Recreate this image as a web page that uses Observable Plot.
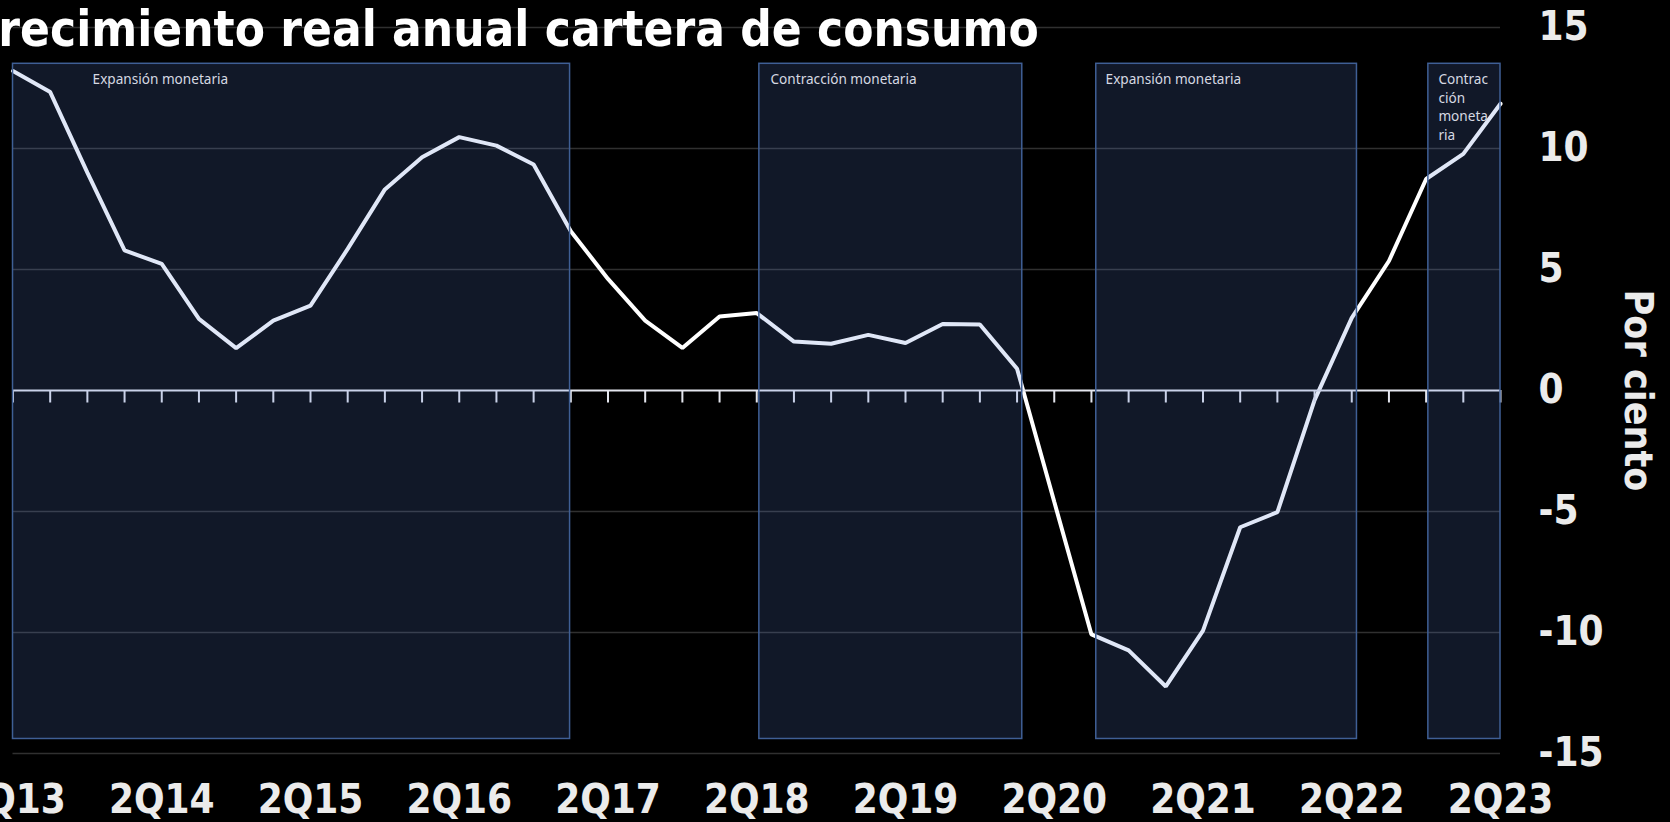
<!DOCTYPE html>
<html>
<head>
<meta charset="utf-8">
<script src="https://cdn.jsdelivr.net/npm/d3@7"></script>
<script src="https://cdn.jsdelivr.net/npm/@observablehq/plot@0.6"></script>
<style>
  html, body { margin: 0; padding: 0; background: #000; overflow: hidden; }
  #wrap { position: relative; width: 1670px; height: 822px; background: #000; }
  #title {
    position: absolute; left: -34px; top: 5px; margin: 0;
    font-family: "DejaVu Sans Condensed", "DejaVu Sans", sans-serif;
    font-stretch: condensed;
    font-weight: bold; font-size: 49px; line-height: 49px;
    color: #ffffff; white-space: nowrap; z-index: 2;
  }
  svg { display: block; }
</style>
</head>
<body>
<div id="wrap">
  <div id="title">Crecimiento real anual cartera de consumo</div>
  <div id="chart"></div>
</div>
<script>
// Quarterly values, 2Q13 .. 2Q23 (per cent, real annual growth)
const growth = [
  13.2, 12.33, 9.0, 5.79, 5.23, 2.96, 1.75, 2.89, 3.51, 5.85,
  8.31, 9.64, 10.47, 10.12, 9.34, 6.58, 4.61, 2.89, 1.76, 3.06,
  3.20, 2.02, 1.93, 2.30, 1.96, 2.75, 2.73, 0.90, -4.6, -10.08,
  -10.74, -12.23, -9.92, -5.65, -5.03, -0.4, 3.0, 5.35, 8.74, 9.78,
  11.85
];
const tickLabels = ["2Q13","2Q14","2Q15","2Q16","2Q17","2Q18","2Q19","2Q20","2Q21","2Q22","2Q23"];
const yTicks = [-15, -10, -5, 0, 5, 10, 15];
const gridValues = [-15, -10, -5, 5, 10, 15];

// Monetary policy periods (quarter index from 2Q13)
const periodStart = [0, 20.07, 29.13, 38.06];
const periodEnd   = [14.98, 27.14, 36.14, 40];
const periodTop = 13.5;
const periodBottom = -14.4;
const periodLabels = ["Expansión monetaria", "Contracción monetaria", "Expansión monetaria", "Contrac\nción\nmoneta\nria"];
const periodLabelX = [2.14, 20.37, 29.38, 38.33];
const periodLabelY = 13.22;

const series = growth.map((v, i) => ({i, v}));
const quarterIdx = growth.map((_, i) => i);
const periods = periodStart.map((s, k) => ({x1: s, x2: periodEnd[k], y1: periodBottom, y2: periodTop, label: periodLabels[k], lx: periodLabelX[k]}));
const tickIdx = tickLabels.map((_, k) => k * 4);

const bold = "'DejaVu Sans Condensed', 'DejaVu Sans', sans-serif";
const plot = Plot.plot({
  width: 1670,
  height: 822,
  marginLeft: 12.5,
  marginRight: 170,
  marginTop: 27,
  marginBottom: 69,
  style: {background: "#000", color: "#ebebeb", fontFamily: bold, overflow: "hidden"},
  x: {type: "linear", domain: [0, 40]},
  y: {domain: [-15, 15]},
  marks: [
    Plot.ruleY(gridValues, {stroke: "#303030", strokeWidth: 1.4}),
    Plot.line(series, {x: "i", y: "v", stroke: "#ffffff", strokeWidth: 4, strokeLinejoin: "miter"}),
    Plot.ruleY([0], {stroke: "#e4e6ee", strokeWidth: 2}),
    Plot.ruleX(quarterIdx, {x: d => d, y1: 0, y2: -12.5 / 24.2, stroke: "#e4e6ee", strokeWidth: 2}),
    Plot.rect(periods, {x1: "x1", x2: "x2", y1: "y1", y2: "y2", fill: "#5b7fd6", fillOpacity: 0.19, stroke: "#3f5f95", strokeWidth: 1.5}),
    Plot.text(periods, {x: "lx", y: periodLabelY, text: "label", textAnchor: "start", lineAnchor: "top", lineHeight: 1.38,
      fontSize: 13.6, fill: "#d6d9e2", fontFamily: "'Noto Sans', 'Open Sans', sans-serif"}),
    Plot.axisY({anchor: "right", ticks: yTicks, tickSize: 0, tickPadding: 38, fontSize: 40, fontWeight: "bold",
      fill: "#ebebeb", label: null, tickFormat: d => String(d)}),
    Plot.axisX({anchor: "bottom", ticks: tickIdx, tickSize: 0, tickPadding: 31, fontSize: 40, fontWeight: "bold",
      fill: "#ebebeb", label: null, tickFormat: d => tickLabels[d / 4]}),
    Plot.text(["Por ciento"], {frameAnchor: "right", textAnchor: "middle", text: d => d, rotate: 90, dx: 137, fontSize: 39,
      fontWeight: "bold", fill: "#ebebeb"})
  ]
});
document.getElementById("chart").appendChild(plot);
</script>
</body>
</html>
